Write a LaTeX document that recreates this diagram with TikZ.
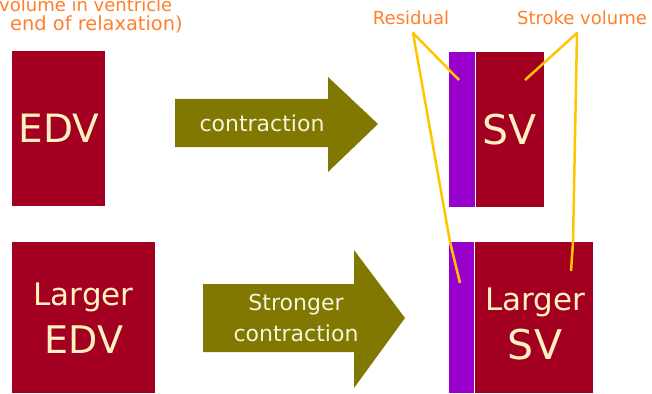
\documentclass[tikz,border=0pt]{standalone}
\usepackage{fontspec}
\setmainfont{DejaVu Sans}
\usetikzlibrary{positioning}

\definecolor{boxred}{RGB}{163,0,33}
\definecolor{residpurple}{RGB}{153,0,204}
\definecolor{flowolive}{RGB}{128,120,0}
\definecolor{pointer}{RGB}{255,198,0}
\definecolor{notes}{RGB}{255,127,42}
\definecolor{cream}{RGB}{255,242,192}
\definecolor{flowtext}{RGB}{245,245,220}

\begin{document}
\begin{tikzpicture}[x=1pt,y=-1pt]
    \tikzset{vol/.style= {fill=boxred, anchor=north west, inner sep=0pt, text=cream, align=center},
             voltext/.style= {text=cream, inner sep=0pt, align=center},
             resid/.style= {fill=residpurple, anchor=north west, inner sep=0pt},
             note/.style= {text=notes, inner sep=0pt, font=\fontsize{18}{20}\selectfont},
             flow/.style= {fill=flowolive},
             flowlabel/.style= {text=flowtext, inner sep=0pt, align=center, font=\fontsize{22}{31}\selectfont},
             pointer/.style= {draw=pointer, line width=2.5pt, line join=round},}

    \useasboundingbox (0,0) rectangle (652,393);

    % clipped caption, top left
    \node [note, anchor=base west] (cap1) at (-1,12) {volume in ventricle};
    \node [note, anchor=base west, font=\fontsize{19.4}{20}\selectfont] (cap2) at (10,31) {end of relaxation)};

    % volumes
    \node [vol, minimum width=93pt, minimum height=155pt, font=\fontsize{39}{40}\selectfont] (edv) at (12,51) {EDV};
    \node [vol, minimum width=143pt, minimum height=151pt, font=\fontsize{31}{48}\selectfont] (ledv) at (12,242) {Larger\\{\fontsize{38}{48}\selectfont EDV}};

    \node [resid, minimum width=26pt, minimum height=155pt] (res) at (449,52) {};
    \node [vol, minimum width=68pt, minimum height=155pt, right=0pt of res, font=\fontsize{41}{42}\selectfont] (sv) {SV};
    \node [resid, minimum width=25pt, minimum height=151pt] (lres) at (449,242) {};
    \node [vol, minimum width=118pt, minimum height=151pt, right=0pt of lres] (lsv) {};
    \node [voltext, font=\fontsize{31}{49}\selectfont] (lsvtext) at (535,324) {Larger\\{\fontsize{41}{49}\selectfont SV}};

    % block arrows
    \fill [flow] (175,99) -- (328,99) -- (328,77) -- (378,124) -- (328,172) -- (328,147) -- (175,147) -- cycle;
    \node [flowlabel] (contr) at (262,123) {contraction};
    \fill [flow] (203,284) -- (354,284) -- (354,250) -- (405,318) -- (354,388) -- (354,352) -- (203,352) -- cycle;
    \node [flowlabel] (scontr) at (296,318) {Stronger\\contraction};

    % labels and pointers
    \node [note] (residual) at (411,18) {Residual};
    \node [note] (stroke) at (582,18) {Stroke volume};

    \coordinate (resapex) at (413,33);
    \coordinate (resend) at (459,80);
    \coordinate (reskink) at (450,242);
    \coordinate (lresend) at (460,283);
    \coordinate (svapex) at (577,33);
    \coordinate (svend) at (525,80);
    \coordinate (svkink) at (573,242);
    \coordinate (lsvend) at (571,271);

    \path[pointer]
                (resend) -- (resapex) -- (reskink) -- (lresend)
                (svend) -- (svapex) -- (svkink) -- (lsvend)
                ;
\end{tikzpicture}
\end{document}
